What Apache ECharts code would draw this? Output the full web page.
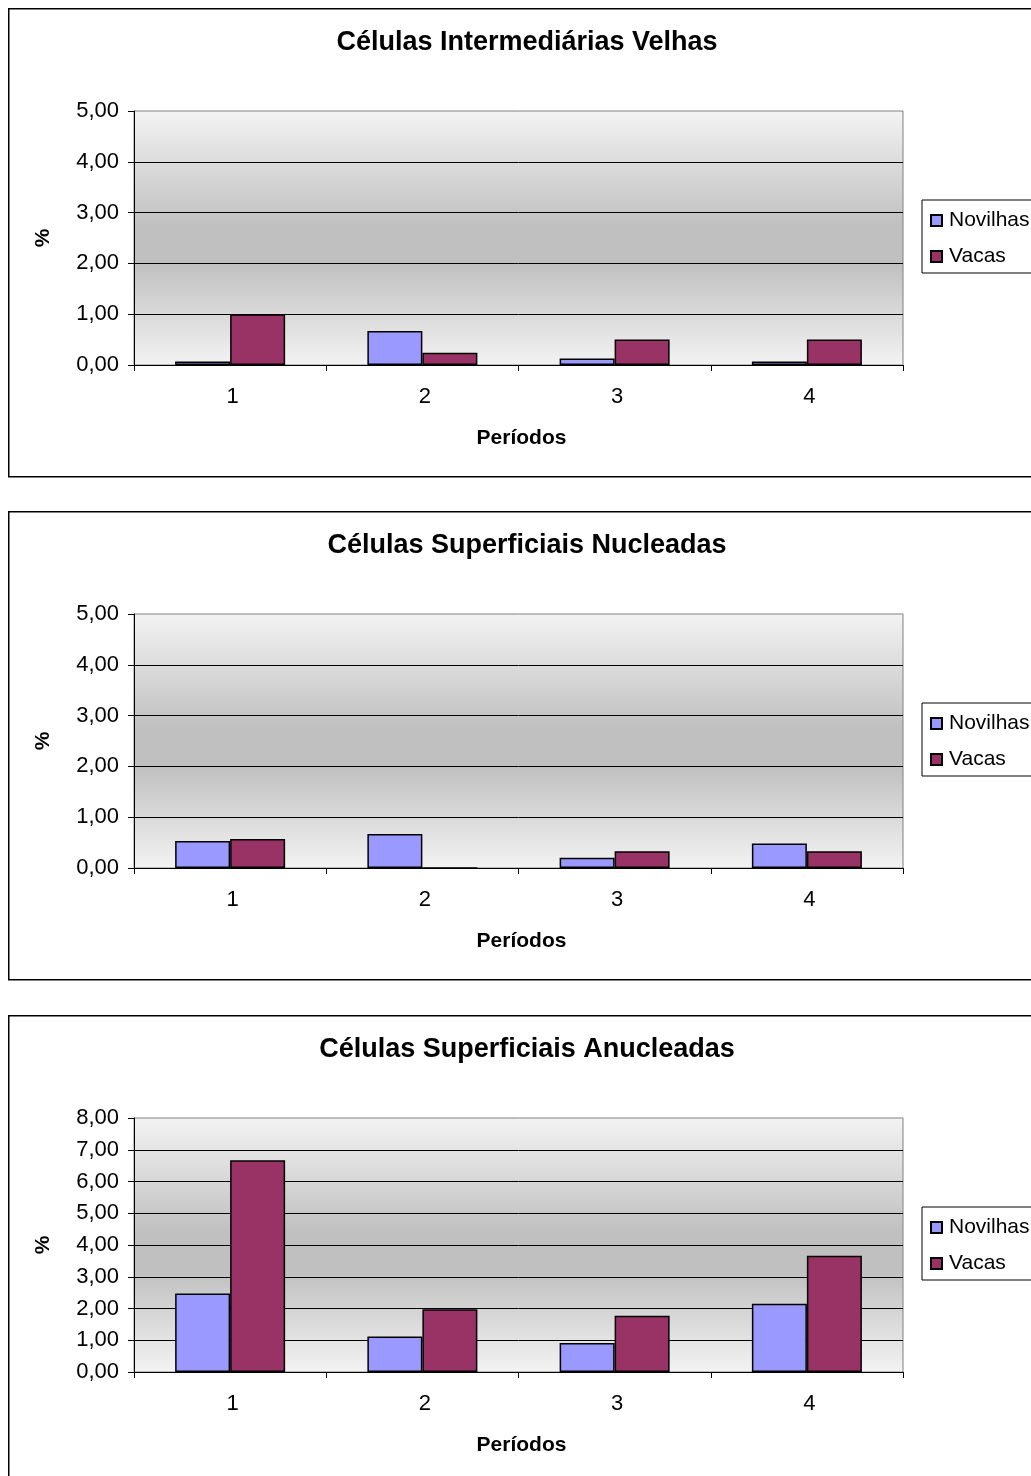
<!DOCTYPE html>
<html>
<head>
<meta charset="utf-8">
<script src="https://cdn.jsdelivr.net/npm/echarts@6/dist/echarts.min.js"></script>
<style>
  html, body { margin: 0; padding: 0; background: #fff; overflow: hidden; }
  #chart { width: 1031px; height: 1476px; }
</style>
</head>
<body>
<div id="chart"></div>
<script>
// Períodos on the category axis
const periods = ['1', '2', '3', '4'];
const seriesNames = ['Novilhas', 'Vacas'];

const titles = [
  'Células Intermediárias Velhas',
  'Células Superficiais Nucleadas',
  'Células Superficiais Anucleadas'
];

// Percentages per period
const novilhasVelhas = [0.07, 0.67, 0.13, 0.07];
const vacasVelhas = [1.00, 0.24, 0.50, 0.50];

const novilhasNucleadas = [0.53, 0.67, 0.20, 0.48];
const vacasNucleadas = [0.57, 0.00, 0.33, 0.33];

const novilhasAnucleadas = [2.47, 1.12, 0.91, 2.15];
const vacasAnucleadas = [6.67, 1.98, 1.77, 3.66];

// Axis ranges
const yMax = [5, 5, 8];
const yInterval = [1, 1, 1];

const panels = [
  { title: titles[0], a: novilhasVelhas, b: vacasVelhas, top: 8 },
  { title: titles[1], a: novilhasNucleadas, b: vacasNucleadas, top: 511 },
  { title: titles[2], a: novilhasAnucleadas, b: vacasAnucleadas, top: 1015 }
];

const FONT = '"Liberation Sans", Arial, sans-serif';
const colors = ['#9999FF', '#993366'];

const plotBg = {
  type: 'linear', x: 0, y: 0, x2: 0, y2: 1,
  colorStops: [
    { offset: 0, color: '#f3f3f3' },
    { offset: 0.45, color: '#c0c0c0' },
    { offset: 0.6, color: '#c0c0c0' },
    { offset: 1, color: '#f3f3f3' }
  ]
};

const grids = [], xAxes = [], yAxes = [], series = [], legends = [], graphics = [];

panels.forEach((p, i) => {
  const off = p.top - 8;
  // outer frame
  graphics.push({
    type: 'rect', left: 8, top: p.top, z: -10,
    shape: { width: 1060, height: 468 },
    style: { fill: '#fff', stroke: '#000', lineWidth: 1.5 }
  });
  graphics.push({
    type: 'text', x: 527, y: 43 + off, z: 10,
    style: {
      text: p.title, fill: '#000', font: 'bold 27px ' + FONT,
      textAlign: 'center', textVerticalAlign: 'middle'
    }
  });

  grids.push({
    left: 134, top: 111 + off, width: 769, height: 254,
    show: true, backgroundColor: plotBg, borderColor: '#808080', borderWidth: 1
  });

  xAxes.push({
    type: 'category', gridIndex: i, data: periods,
    name: 'Períodos', nameLocation: 'middle', nameGap: 63,
    nameTextStyle: { fontFamily: FONT, fontWeight: 'bold', fontSize: 21, color: '#000', padding: [0, 0, 0, 6] },
    axisLine: { lineStyle: { color: '#000', width: 1 } },
    axisTick: { show: true, length: 6, lineStyle: { color: '#000' } },
    axisLabel: { fontFamily: FONT, fontSize: 22, color: '#000', margin: 21, padding: [0, 0, 0, 5] },
    splitLine: { show: false }
  });

  yAxes.push({
    type: 'value', gridIndex: i, min: 0, max: yMax[i], interval: yInterval[i],
    name: '%', nameLocation: 'middle', nameGap: 80, nameRotate: 90,
    nameTextStyle: { fontFamily: FONT, fontWeight: 'bold', fontSize: 21, color: '#000' },
    axisLine: { show: true, lineStyle: { color: '#000', width: 1 } },
    axisTick: { show: true, length: 6, lineStyle: { color: '#000' } },
    axisLabel: {
      fontFamily: FONT, fontSize: 22, color: '#000', margin: 15,
      formatter: v => v.toFixed(2).replace('.', ',')
    },
    splitLine: { show: true, showMaxLine: false, lineStyle: { color: '#000', width: 1 } }
  });

  [p.a, p.b].forEach((vals, k) => {
    series.push({
      type: 'bar', name: seriesNames[k], xAxisIndex: i, yAxisIndex: i,
      data: vals, barWidth: 55, barGap: '0%',
      itemStyle: { color: colors[k], borderColor: '#000', borderWidth: 1.5 },
      emphasis: { disabled: true }
    });
  });

  legends.push({
    data: seriesNames, orient: 'vertical', left: 922, top: 200 + off,
    padding: [10, 30, 6, 8], itemGap: 15, itemWidth: 11, itemHeight: 11,
    backgroundColor: '#fff', borderColor: '#000', borderWidth: 1,
    icon: 'rect',
    textStyle: { fontFamily: FONT, fontSize: 21, color: '#000', padding: [0, 0, 0, 2] }
  });
});

const chart = echarts.init(document.getElementById('chart'), null, { renderer: 'canvas' });
chart.setOption({
  animation: false,
  backgroundColor: '#fff',
  color: colors,
  graphic: graphics,
  grid: grids,
  xAxis: xAxes,
  yAxis: yAxes,
  legend: legends,
  series: series
});
</script>
</body>
</html>
